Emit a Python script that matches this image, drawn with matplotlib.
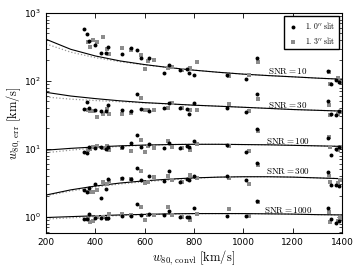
import numpy as np
import matplotlib
matplotlib.use('Agg')
import matplotlib.pyplot as plt

plt.rcParams['mathtext.fontset'] = 'cm'

# object widths (km/s), black = 1.0" slit, gray = 1.3" slit
bx = [355, 365, 376, 399, 423, 442, 451, 509, 546, 568, 584, 619, 680, 700,
      743, 770, 781, 799, 932, 1011, 1054, 1344, 1355, 1376, 1389]
gx = [370, 378, 390, 408, 432, 448, 457, 508, 546, 584, 601, 614, 638, 696,
      712, 753, 784, 811, 943, 1022, 1061, 1348, 1350, 1384, 1392]

b10 = [580, 494, 390, 340, 262, 257, 315, 248, 304, 290, 214, 221, 130, 170,
       144, 152, 133, 123, 121, 106, 221, 141, 91, 103, 97]
g10 = [369, 318, 404, 377, 447, 294, 245, 301, 287, 240, 152, 198, 202, 154,
       161, 144, 154, 187, 119, 121, 187, 136, 91, 112, 96]
b30 = [38.2, 49, 39.5, 38, 36, 36, 43.8, 37.2, 36, 65.1, 38.2, 36, 40, 48,
       40, 38.2, 32.2, 47.5, 39.4, 35.4, 65, 50.7, 33, 32, 36]
g30 = [37.2, 36, 36, 29.8, 32.2, 38.2, 33, 32.2, 34, 55.6, 38, 38, 38, 39.4,
       48, 40, 38, 38, 45.5, 36, 55, 43.7, 32, 33, 35]
b100 = [8.9, 8.7, 10.6, 10.3, 10.8, 9.84, 10.8, 10.6, 12.1, 16.3, 10.8, 11.8, 10.3, 12.3,
        10.3, 11.2, 10.5, 13.3, 11.6, 9.0, 19.7, 14.5, 8.2, 10, 10.5]
g100 = [9.7, 10, 10.8, 10.9, 10.3, 11, 9.7, 10.3, 9.2, 13.7, 8.9, 11, 10.3, 13,
        10.5, 10.3, 9.8, 12, 11.2, 9.2, 18.2, 15, 10.5, 9.6, 10.8]
b300 = [2.45, 2.29, 2.65, 3.1, 1.93, 2.56, 3.64, 3.73, 3.64, 5.25, 3.52, 4.0, 3.4, 4.67,
        3.26, 3.6, 3.44, 4.0, 3.94, 3.44, 6.2, 4.56, 2.97, 2.97, 2.85]
g300 = [2.36, 2.3, 2.29, 2.5, 3.26, 3.04, 3.4, 3.64, 3.6, 4.67, 3.14, 3.3, 3.86, 4.0,
        3.5, 3.3, 4.17, 3.7, 3.8, 3.07, 5.86, 4.0, 3.3, 3.2, 3.5]
b1000 = [0.92, 0.92, 1.1, 0.96, 0.96, 0.96, 0.98, 1.04, 1.04, 1.54, 1.07, 1.1, 1.05, 1.23,
         0.99, 0.99, 0.99, 1.37, 1.03, 1.03, 1.72, 1.37, 0.92, 0.82, 0.87]
g1000 = [0.94, 0.83, 0.86, 1.0, 1.0, 0.94, 1.1, 1.1, 1.07, 1.42, 0.9, 1.05, 1.05, 1.39,
         1.05, 1.0, 0.9, 1.1, 1.31, 1.03, 1.65, 1.2, 0.85, 0.88, 0.95]

# model curves
wgrid = [200, 300, 400, 500, 600, 700, 800, 900, 1000, 1100, 1200, 1300, 1400]
s10 = [410, 292, 233, 197, 174, 157, 144, 134, 126, 120, 115, 110, 106]
d10 = [350, 265, 220, 192, 172, 157, 144, 134, 126, 120, 115, 110, 106]
s30 = [68, 60, 55, 51, 48, 46, 44, 42.5, 41, 39.5, 38, 37, 36]
d30 = [58, 54, 51.5, 49.5, 47.5, 45.8, 44, 42.5, 41, 39.5, 38, 37, 36]
s100 = [9.6, 10.2, 10.7, 11.1, 11.4, 11.6, 11.7, 11.7, 11.6, 11.5, 11.3, 11.1, 10.9]
d100 = [8.8, 9.6, 10.3, 10.9, 11.3, 11.6, 11.7, 11.7, 11.6, 11.5, 11.3, 11.1, 10.9]
s300 = [2.1, 2.5, 2.85, 3.15, 3.4, 3.6, 3.75, 3.85, 3.9, 3.9, 3.85, 3.75, 3.65]
d300 = [2.05, 2.4, 2.75, 3.05, 3.3, 3.5, 3.7, 3.85, 3.9, 3.9, 3.85, 3.75, 3.65]
s1000 = [0.98, 1.01, 1.04, 1.07, 1.09, 1.11, 1.12, 1.12, 1.12, 1.11, 1.1, 1.08, 1.07]
d1000 = [0.93, 0.97, 1.01, 1.05, 1.08, 1.10, 1.12, 1.12, 1.12, 1.11, 1.1, 1.08, 1.07]

snr_labels = ['10', '30', '100', '300', '1000']
label_y = [139, 45, 13.3, 4.8, 1.27]

fig, ax = plt.subplots(figsize=(3.6, 2.7), dpi=100)
fig.subplots_adjust(left=0.128, right=0.95, top=0.952, bottom=0.137)

blacks = [b10, b30, b100, b300, b1000]
grays = [g10, g30, g100, g300, g1000]
solids = [s10, s30, s100, s300, s1000]
dots = [d10, d30, d100, d300, d1000]

for i in range(5):
    ax.plot(wgrid, dots[i], ':', color='0.6', lw=0.9, zorder=1)
    ax.plot(wgrid, solids[i], '-', color='k', lw=0.8, zorder=2)
    ax.scatter(gx, grays[i], marker='s', s=7, color='0.55', lw=0, zorder=3,
               label=r"$1.\,3''\ \mathrm{slit}$" if i == 0 else None)
    ax.scatter(bx, blacks[i], marker='o', s=8, color='k', lw=0, zorder=4,
               label=r"$1.\,0''\ \mathrm{slit}$" if i == 0 else None)
    ax.text(1180, label_y[i], r'$\mathrm{SNR}=' + snr_labels[i] + '$',
            ha='center', va='center', fontsize=6.5)

ax.set_yscale('log')
ax.set_xlim(200, 1400)
ax.set_ylim(0.58, 1000)
ax.set_xticks([200, 400, 600, 800, 1000, 1200, 1400])
ax.tick_params(which='both', direction='in', top=True, right=True, labelsize=6.5)
ax.tick_params(which='major', length=3.5, width=0.6)
ax.tick_params(which='minor', length=2, width=0.5)
for sp in ax.spines.values():
    sp.set_linewidth(0.8)

ax.set_xlabel(r'$w_{80,\,\mathrm{convl}}\ [\mathrm{km/s}]$', fontsize=9, labelpad=1)
ax.set_ylabel(r'$w_{80,\,\mathrm{err}}\ [\mathrm{km/s}]$', fontsize=9, labelpad=1)

h, l = ax.get_legend_handles_labels()
ax.legend(h[::-1], l[::-1], loc='upper right', fontsize=5.5, fancybox=False,
          edgecolor='k', framealpha=1, scatterpoints=1, borderpad=0.5,
          handletextpad=0.8, labelspacing=0.5, borderaxespad=0.4,
          handlelength=1.5)

fig.savefig('out.png', dpi=100)
